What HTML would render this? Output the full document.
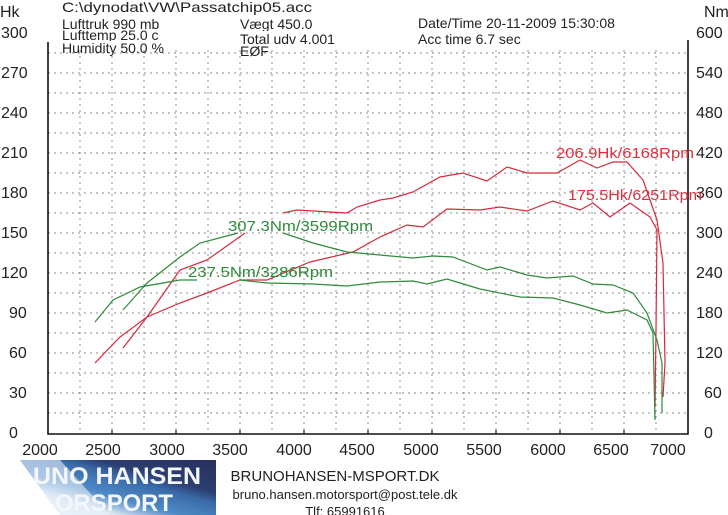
<!DOCTYPE html>
<html><head><meta charset="utf-8"><style>
html,body{margin:0;padding:0;background:#fff;width:728px;height:515px;overflow:hidden}
svg{display:block}
text{font-family:"Liberation Sans",sans-serif}
</style></head><body>
<svg width="728" height="515" viewBox="0 0 728 515" xmlns="http://www.w3.org/2000/svg">
<defs>
<linearGradient id="lg" x1="0" y1="1" x2="1" y2="0">
<stop offset="0" stop-color="#ffffff"/>
<stop offset="0.25" stop-color="#d8e6f2"/>
<stop offset="0.4" stop-color="#4f8cc8"/>
<stop offset="0.6" stop-color="#3a6aa8"/>
<stop offset="0.7" stop-color="#2c3e70"/>
<stop offset="1" stop-color="#27305e"/>
</linearGradient>
</defs>
<!-- grid -->
<g stroke="#888" stroke-width="1" stroke-dasharray="2,4">
<path d="M48 53H688M48 73H688M48 93H688M48 113H688M48 133H688M48 153H688M48 173H688M48 193H688M48 213H688M48 233H688M48 253H688M48 273H688M48 293H688M48 313H688M48 333H688M48 353H688M48 373H688M48 393H688M48 413H688"/>
<path d="M80 50V433M112 50V433M144 50V433M176 50V433M208 50V433M240 50V433M272 50V433M304 50V433M336 50V433M368 50V433M400 50V433M432 50V433M464 50V433M496 50V433M528 50V433M560 50V433M592 50V433M624 50V433M656 50V433"/>
</g>
<!-- axes -->
<path d="M48 42V434H688V40" fill="none" stroke="#111" stroke-width="1.6"/>
<g stroke="#111" stroke-width="1.2"><path d="M112 434v-4M176 434v-4M240 434v-4M304 434v-4M368 434v-4M432 434v-4M496 434v-4M560 434v-4M624 434v-4"/></g>
<!-- left labels -->
<g font-size="16" fill="#222">
<text x="1" y="38">300</text><text x="1" y="78">270</text><text x="1" y="118">240</text>
<text x="1" y="158">210</text><text x="1" y="198">180</text><text x="1" y="238">150</text>
<text x="1" y="278">120</text><text x="9" y="318">90</text><text x="9" y="358">60</text>
<text x="9" y="398">30</text><text x="9" y="438">0</text>
<text x="0" y="17">Hk</text>
<text x="696" y="38">600</text><text x="696" y="78">540</text><text x="696" y="118">480</text>
<text x="696" y="158">420</text><text x="696" y="198">360</text><text x="696" y="238">300</text>
<text x="696" y="278">240</text><text x="696" y="318">180</text><text x="696" y="358">120</text>
<text x="704" y="398">60</text><text x="704" y="438">0</text>
<text x="704" y="17">Nm</text>
</g>
<g font-size="16" fill="#222" text-anchor="middle">
<text x="40" y="455">2000</text><text x="103" y="455">2500</text><text x="167" y="455">3000</text>
<text x="230" y="455">3500</text><text x="294" y="455">4000</text><text x="357" y="455">4500</text>
<text x="421" y="455">5000</text><text x="484" y="455">5500</text><text x="548" y="455">6000</text>
<text x="611" y="455">6500</text><text x="668" y="455">7000</text>
</g>
<!-- header -->
<g font-size="14" fill="#222">
<text x="62" y="12" textLength="250" lengthAdjust="spacingAndGlyphs">C:\dynodat\VW\Passatchip05.acc</text>
<text x="62" y="29">Lufttruk  990 mb</text>
<text x="240" y="29">Vægt    450.0</text>
<text x="418" y="28">Date/Time  20-11-2009 15:30:08</text>
<rect x="55" y="31" width="400" height="8" fill="#fff"/>
<rect x="470" y="30" width="60" height="7" fill="#fff"/>
<text x="62" y="40">Lufttemp  25.0 c</text>
<text x="240" y="44">Total udv 4.001</text>
<text x="418" y="44">Acc time  6.7 sec</text>
<rect x="55" y="41" width="140" height="4" fill="#fff"/>
<text x="62" y="53">Humidity  50.0 %</text>
<text x="240" y="56">EØF</text>
</g>
<!-- curves -->
<g fill="none" stroke-width="1.2">
<polyline stroke="#d8283c" points="123,348 147,317 180,270 207,260 245,233"/>
<polyline stroke="#d8283c" points="283,213 297,210 347,213 357,207 380,200 393,198 413,192 440,177 463,173 487,181 507,167 527,173 557,173 580,160 597,168 613,162 627,162 643,180 650,200 657,220 663,263 665,363 663,397"/>
<polyline stroke="#d8283c" points="95,363 120,337 147,317 180,303 207,293 240,280 267,280 310,262 353,252 380,237 407,225 423,227 447,209 480,210 500,207 527,211 553,201 580,210 593,203 610,217 630,203 650,217 657,230 656,330 655,407"/>
<polyline stroke="#2e8a3a" points="123,310 147,283 180,257 200,243 238,233"/>
<polyline stroke="#2e8a3a" points="283,233 313,243 347,252 380,255 413,258 433,256 453,257 487,270 500,267 527,275 547,278 573,276 593,284 613,285 633,293 647,313 657,340 662,363 662,413"/>
<polyline stroke="#2e8a3a" points="95,322 113,300 140,287 180,280 197,280"/>
<polyline stroke="#2e8a3a" points="240,280 267,283 313,284 347,286 380,282 413,281 427,284 447,279 480,289 520,297 553,298 580,305 607,313 627,310 647,320 653,333 655,420"/>
</g>
<g font-size="15">
<text x="228" y="231" fill="#2e8a3a" textLength="145" lengthAdjust="spacingAndGlyphs">307.3Nm/3599Rpm</text>
<text x="188" y="277" fill="#2e8a3a" textLength="145" lengthAdjust="spacingAndGlyphs">237.5Nm/3286Rpm</text>
<text x="556" y="158" fill="#e0303e" textLength="138" lengthAdjust="spacingAndGlyphs">206.9Hk/6168Rpm</text>
<text x="568" y="200" fill="#e0303e" textLength="134" lengthAdjust="spacingAndGlyphs">175.5Hk/6251Rpm</text>
</g>
<!-- footer -->
<polygon points="20,460 216,460 216,515 60,515" fill="url(#lg)"/>
<polygon points="20,460 60,460 110,515 60,515" fill="#e8f0f8" opacity="0.6"/>
<g font-weight="bold" fill="#f4f6fa" font-size="24">
<text x="33" y="484" textLength="168" lengthAdjust="spacingAndGlyphs">UNO HANSEN</text>
<text x="55" y="511" textLength="118" lengthAdjust="spacingAndGlyphs">ORSPORT</text>
</g>
<g font-family="Liberation Serif,serif" fill="#222" text-anchor="middle">
<text x="335" y="481" font-size="15">BRUNOHANSEN-MSPORT.DK</text>
<text x="345" y="499" font-size="13">bruno.hansen.motorsport@post.tele.dk</text>
<text x="345" y="516" font-size="13">Tlf: 65991616</text>
</g>
</svg>
</body></html>
